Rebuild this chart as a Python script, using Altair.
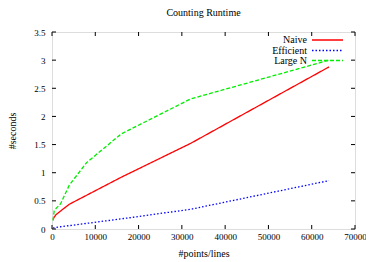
import altair as alt
import pandas as pd

# ---- data ----
n_points = [250, 500, 1000, 2000, 4000, 8000, 16000, 32000, 64000]
naive = [0.17, 0.21, 0.26, 0.32, 0.44, 0.60, 0.92, 1.52, 2.88]
efficient = [0.02, 0.02, 0.03, 0.04, 0.06, 0.10, 0.18, 0.35, 0.86]
large_n = [0.15, 0.32, 0.37, 0.45, 0.78, 1.18, 1.69, 2.31, 3.00]

series_names = ["Naive", "Efficient", "Large N"]
series_colors = ["#ff0000", "#0000ff", "#00ee00"]
series_dash = [[1, 0], [1.5, 2], [4, 2]]

x_ticks = [0, 10000, 20000, 30000, 40000, 50000, 60000, 70000]
y_ticks = [0, 0.5, 1, 1.5, 2, 2.5, 3, 3.5]

W, H = 303, 197
FONT = "Liberation Serif"

rows = []
for name, vals in zip(series_names, [naive, efficient, large_n]):
    for xv, yv in zip(n_points, vals):
        rows.append({"n": xv, "sec": yv, "series": name})
df = pd.DataFrame(rows)
legend_df = pd.DataFrame({"series": series_names})
xt_df = pd.DataFrame({"t": x_ticks})
yt_df = pd.DataFrame({"t": y_ticks})

xscale = alt.Scale(domain=[0, 70000], nice=False)
yscale = alt.Scale(domain=[0, 3.5], nice=False)
xaxis = alt.Axis(values=x_ticks, format="d", ticks=False, domain=False, grid=False,
                 labelFlush=False, labelOverlap=False,
                 labelFontSize=9, labelPadding=3, labelFont=FONT, labelColor="black",
                 titleFont=FONT, titleFontSize=10, titleFontWeight="normal",
                 titleColor="black", titleY=19)
yaxis = alt.Axis(values=y_ticks, format=".1~f", ticks=False, domain=False, grid=False,
                 labelFlush=False, labelOverlap=False,
                 labelFontSize=9, labelPadding=7, labelFont=FONT, labelColor="black",
                 titleFont=FONT, titleFontSize=10, titleFontWeight="normal",
                 titleColor="black", titleX=-35, titleY=H / 2)
XT = "#points/lines"
YT = "#seconds"
color = alt.Color("series:N", scale=alt.Scale(domain=series_names, range=series_colors), legend=None)
dash = alt.StrokeDash("series:N", scale=alt.Scale(domain=series_names, range=series_dash), legend=None)

lines = alt.Chart(df).mark_line(strokeWidth=1.3).encode(
    x=alt.X("n:Q", scale=xscale, title=XT, axis=xaxis),
    y=alt.Y("sec:Q", scale=yscale, title=YT, axis=yaxis),
    color=color,
    strokeDash=dash,
    order="n:Q",
)

tl = 4
tick_bottom = alt.Chart(xt_df).mark_rule(color="black", strokeWidth=1).encode(
    x=alt.X("t:Q", scale=xscale, title=XT, axis=xaxis), y=alt.value(H), y2=alt.value(H - tl))
tick_top = alt.Chart(xt_df).mark_rule(color="black", strokeWidth=1).encode(
    x=alt.X("t:Q", scale=xscale, title=XT, axis=xaxis), y=alt.value(0), y2=alt.value(tl))
tick_left = alt.Chart(yt_df).mark_rule(color="black", strokeWidth=1).encode(
    y=alt.Y("t:Q", scale=yscale, title=YT, axis=yaxis), x=alt.value(0), x2=alt.value(tl))
tick_right = alt.Chart(yt_df).mark_rule(color="black", strokeWidth=1).encode(
    y=alt.Y("t:Q", scale=yscale, title=YT, axis=yaxis), x=alt.value(W), x2=alt.value(W - tl))

leg_rows_y = [8, 18.5, 28.5]
legend_layers = []
for name, ly in zip(series_names, leg_rows_y):
    sub = legend_df[legend_df["series"] == name]
    legend_layers.append(
        alt.Chart(sub).mark_rule(strokeWidth=1.3).encode(
            x=alt.value(260), x2=alt.value(291), y=alt.value(ly), color=color, strokeDash=dash))
    legend_layers.append(
        alt.Chart(sub).mark_text(align="right", baseline="middle", font=FONT,
                                 fontSize=10, color="black").encode(
            x=alt.value(255), y=alt.value(ly), text="series:N"))

chart = alt.layer(
    lines, tick_bottom, tick_top, tick_left, tick_right, *legend_layers
).properties(
    width=W, height=H,
    title=alt.TitleParams("Counting Runtime", font=FONT, fontSize=10, fontWeight="normal",
                          color="black", anchor="middle", offset=10),
    autosize=alt.AutoSizeParams(type="none"),
    padding={"left": 44, "top": 24, "right": 11, "bottom": 32},
).configure_view(stroke="black", strokeWidth=1).configure(background="white")

chart.save("out.html", embed_options={"renderer": "svg", "actions": False})
